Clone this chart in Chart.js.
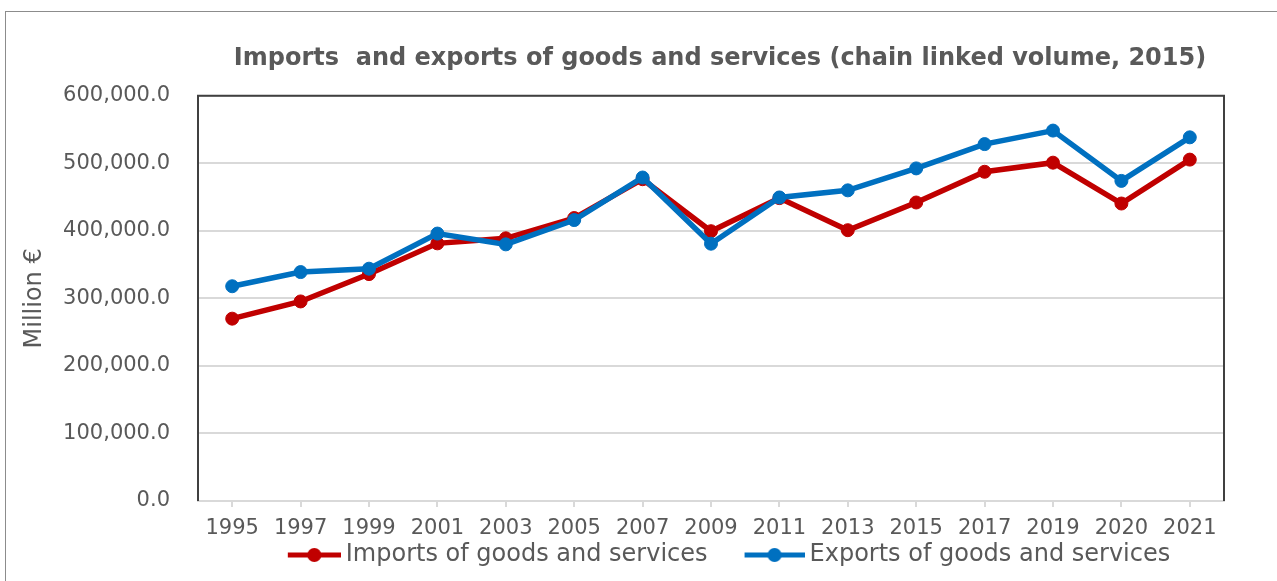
<!DOCTYPE html>
<html>
<head>
<meta charset="utf-8">
<script src="https://cdn.jsdelivr.net/npm/chart.js@4"></script>
<style>
  html, body { margin: 0; padding: 0; background: #fff; }
  #frame {
    position: absolute; left: 5px; top: 11px;
    width: 1272px; height: 570px;
    border-left: 1px solid #8c8c8c; border-top: 1px solid #8c8c8c;
  }
</style>
</head>
<body>
<div id="frame"><canvas id="grafico"></canvas></div>
<script>
// Anos (rótulos do eixo X)
const anos = ['1995', '1997', '1999', '2001', '2003', '2005', '2007', '2009',
  '2011', '2013', '2015', '2017', '2019', '2020', '2021'];

// Importações e exportações, milhões de euros (volume encadeado, 2015)
const importacoes = [270000, 295500, 336000, 381500, 389000, 419000, 476500, 399500,
  448500, 401000, 442000, 487500, 501000, 440500, 505500];
const exportacoes = [318000, 339000, 344000, 396000, 380000, 416000, 479000, 381000,
  449500, 460000, 492500, 528500, 548500, 474000, 538500];

// Marcas do eixo Y
const marcasY = [0, 100000, 200000, 300000, 400000, 500000, 600000];

const corImp = '#c00000';
const corExp = '#0070c0';
const corTexto = '#595959';
const fonte = '"DejaVu Sans", Verdana, sans-serif';

// Símbolo da legenda: linha com um círculo no meio, encostada à direita
// (a parte esquerda transparente dá o espaço entre os itens)
const larguraCaixa = 82;
function simboloLegenda(cor, comp) {
  const c = document.createElement('canvas');
  c.width = larguraCaixa + 14; c.height = 18;
  const g = c.getContext('2d');
  const x0 = c.width - comp;
  g.strokeStyle = cor; g.lineWidth = 5;
  g.beginPath(); g.moveTo(x0, 9); g.lineTo(c.width, 9); g.stroke();
  g.fillStyle = cor;
  g.beginPath(); g.arc(x0 + comp / 2, 9, 7, 0, Math.PI * 2); g.fill();
  return c;
}
const simbolos = [simboloLegenda(corImp, 53), simboloLegenda(corExp, 60)];

// Moldura escura em cima, à esquerda e à direita da área do gráfico;
// o título fica um pouco mais à direita que o centro da área
const moldura = {
  id: 'moldura',
  afterLayout(chart) {
    if (chart.titleBlock) chart.titleBlock.left += 18;
  },
  afterDatasetsDraw(chart) {
    const { ctx, chartArea: a } = chart;
    ctx.save();
    ctx.strokeStyle = '#404040';
    ctx.lineWidth = 2;
    ctx.beginPath();
    ctx.moveTo(a.left, a.bottom);
    ctx.lineTo(a.left, a.top);
    ctx.lineTo(a.right, a.top);
    ctx.lineTo(a.right, a.bottom);
    ctx.stroke();
    ctx.restore();
  }
};

new Chart(document.getElementById('grafico'), {
  type: 'line',
  data: {
    labels: anos,
    datasets: [
      {
        label: 'Imports of goods and services',
        data: importacoes,
        borderColor: corImp, backgroundColor: corImp,
        borderWidth: 5.5, pointRadius: 6.5, pointBorderWidth: 1,
        tension: 0, order: 1
      },
      {
        label: 'Exports of goods and services',
        data: exportacoes,
        borderColor: corExp, backgroundColor: corExp,
        borderWidth: 5.5, pointRadius: 6.5, pointBorderWidth: 1,
        tension: 0, order: 0
      }
    ]
  },
  options: {
    responsive: true,
    maintainAspectRatio: false,
    animation: false,
    layout: { padding: { left: 0, right: 54, top: 0, bottom: 5 } },
    plugins: {
      title: {
        display: true,
        fullSize: false,
        text: 'Imports  and exports of goods and services (chain linked volume, 2015)',
        color: corTexto,
        font: { family: fonte, size: 24, weight: 'bold' },
        padding: { top: 32, bottom: 23 }
      },
      legend: {
        position: 'bottom',
        fullSize: false,
        labels: {
          color: corTexto,
          font: { family: fonte, size: 24 },
          usePointStyle: true,
          pointStyleWidth: larguraCaixa,
          padding: 8,
          generateLabels(chart) {
            const itens = Chart.defaults.plugins.legend.labels.generateLabels(chart);
            itens.sort((a, b) => a.datasetIndex - b.datasetIndex);
            itens.forEach(it => { it.pointStyle = simbolos[it.datasetIndex]; });
            return itens;
          }
        }
      },
      tooltip: { enabled: false }
    },
    scales: {
      x: {
        offset: true,
        grid: { drawOnChartArea: false, drawTicks: true, tickLength: 6, color: '#d9d9d9', lineWidth: 2 },
        border: { color: '#d9d9d9', width: 2 },
        ticks: { color: corTexto, font: { family: fonte, size: 21 }, padding: 9, maxRotation: 0, autoSkip: false },
        afterFit(s) { s.height = 34; }
      },
      y: {
        min: 0,
        max: 600000,
        afterBuildTicks(s) { s.ticks = marcasY.map(v => ({ value: v })); },
        grid: { color: '#d9d9d9', lineWidth: 2, drawTicks: false },
        border: { display: false },
        ticks: {
          color: corTexto,
          font: { family: fonte, size: 21 },
          padding: 28,
          callback: v => v.toLocaleString('en-US', { minimumFractionDigits: 1, maximumFractionDigits: 1 })
        },
        title: {
          display: true,
          text: 'Million €',
          color: corTexto,
          font: { family: fonte, size: 24 },
          padding: { top: 14, bottom: 0 }
        },
        afterFit(s) { s.width = 192; }
      }
    }
  },
  plugins: [moldura]
});
</script>
</body>
</html>
